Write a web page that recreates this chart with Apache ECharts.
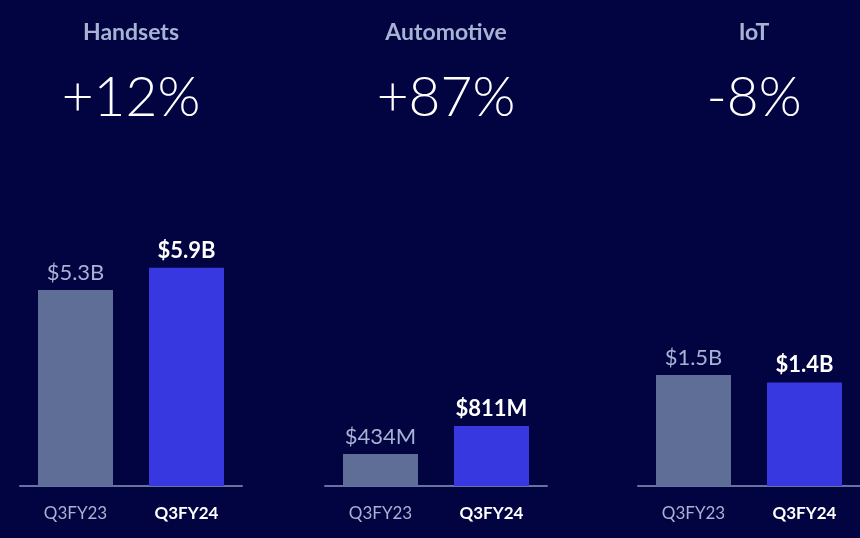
<!DOCTYPE html>
<html>
<head>
<meta charset="utf-8">
<script src="https://cdn.jsdelivr.net/npm/echarts@6/dist/echarts.min.js"></script>
<style>
html,body{margin:0;padding:0;background:#020341;}
#c{width:860px;height:538px;}
</style>
</head>
<body>
<div id="c"></div>
<script>
// Data
const segments = ['Handsets', 'Automotive', 'IoT'];
const growth = ['+12%', '+87%', '-8%'];
const categories = ['Q3FY23', 'Q3FY24'];
const handsetsValues = [5.3, 5.9];          // $B
const automotiveValues = [0.434, 0.811];    // $B
const iotValues = [1.5, 1.4];               // $B
const handsetsLabels = ['$5.3B', '$5.9B'];
const automotiveLabels = ['$434M', '$811M'];
const iotLabels = ['$1.5B', '$1.4B'];

const allValues = [handsetsValues, automotiveValues, iotValues];
const allLabels = [handsetsLabels, automotiveLabels, iotLabels];
const axisMax = [7, 3.5, 3.5];

const gridLeft = [20, 325, 638];
const centers = [126, 441, 749];
const colOld = '#5e6e96';
const colNew = '#3838e0';
const txtOld = '#a6b3d2';
const txtNew = '#ffffff';

const chart = echarts.init(document.getElementById('c'));

const grids = [], xAxes = [], yAxes = [], series = [], titles = [];
for (let i = 0; i < 3; i++) {
  grids.push({left: gridLeft[i], width: 222, top: 227, height: 259});
  xAxes.push({
    type: 'category', gridIndex: i, data: categories,
    axisLine: {lineStyle: {color: '#66739f', width: 2}},
    axisTick: {show: false},
    axisLabel: {
      interval: 0,
      margin: 19,
      fontFamily: 'Lato', fontSize: 17,
      formatter: function (v, idx) { return idx === 0 ? '{a|' + v + '}' : '{b|' + v + '}'; },
      rich: {
        a: {color: txtOld, fontFamily: 'Lato', fontSize: 17, fontWeight: 400},
        b: {color: txtNew, fontFamily: 'Lato', fontSize: 17, fontWeight: 700}
      }
    }
  });
  yAxes.push({type: 'value', gridIndex: i, min: 0, max: axisMax[i], show: false, splitLine: {show: false}});
  series.push({
    type: 'bar', xAxisIndex: i, yAxisIndex: i, barWidth: 75,
    data: allValues[i].map((v, j) => ({
      value: v,
      itemStyle: {color: j === 0 ? colOld : colNew},
      label: {
        show: true, position: 'top', distance: 6,
        formatter: allLabels[i][j],
        color: j === 0 ? txtOld : txtNew,
        fontFamily: 'Lato', fontSize: 22, fontWeight: j === 0 ? 400 : 700
      }
    })),
    silent: true, animation: false
  });
  titles.push({
    text: segments[i], left: centers[i], top: 16, textAlign: 'center',
    textStyle: {color: '#a6b3d2', fontFamily: 'Lato', fontSize: 23, fontWeight: 700}
  });
  titles.push({
    text: growth[i], left: centers[i], top: 66, textAlign: 'center',
    textStyle: {color: '#ffffff', fontFamily: 'Lato', fontSize: 55, fontWeight: 300}
  });
}

chart.setOption({
  backgroundColor: '#020341',
  animation: false,
  title: titles,
  grid: grids,
  xAxis: xAxes,
  yAxis: yAxes,
  series: series
});
</script>
</body>
</html>
